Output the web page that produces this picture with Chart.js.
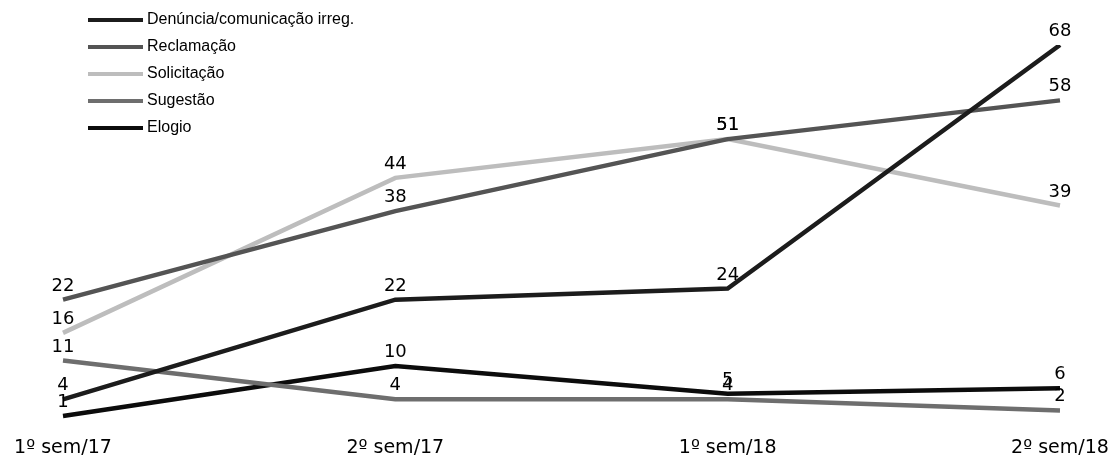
<!DOCTYPE html>
<html>
<head>
<meta charset="utf-8">
<script src="https://cdn.jsdelivr.net/npm/chart.js@4"></script>
<style>
  html, body { margin: 0; padding: 0; background: #fff; }
  #wrap { width: 1116px; height: 456px; }
</style>
</head>
<body>
<div id="wrap"><canvas id="myChart"></canvas></div>
<script>
const periods = ['1º sem/17', '2º sem/17', '1º sem/18', '2º sem/18'];

const denuncia = [4, 22, 24, 68];
const reclamacao = [22, 38, 51, 58];
const solicitacao = [16, 44, 51, 39];
const sugestao = [11, 4, 4, 2];
const elogio = [1, 10, 5, 6];

const seriesNames = ['Denúncia/comunicação irreg.', 'Reclamação', 'Solicitação', 'Sugestão', 'Elogio'];
const seriesColors = ['#1c1c1c', '#545454', '#bdbdbd', '#6e6e6e', '#0c0c0c'];

// value labels above each point
const pointLabels = {
  id: 'pointLabels',
  afterDatasetsDraw(chart) {
    const c = chart.ctx;
    c.save();
    c.font = '18px "DejaVu Sans", sans-serif';
    c.fillStyle = '#000';
    c.textAlign = 'center';
    c.textBaseline = 'alphabetic';
    chart.data.datasets.forEach((ds, i) => {
      chart.getDatasetMeta(i).data.forEach((pt, j) => {
        c.fillText(ds.data[j], pt.x, pt.y - 9);
      });
    });
    c.restore();
  }
};

// vertical legend in the top-left
const sideLegend = {
  id: 'sideLegend',
  afterDraw(chart) {
    const c = chart.ctx;
    c.save();
    c.font = '16px "Liberation Sans", Arial, sans-serif';
    c.textBaseline = 'middle';
    chart.data.datasets.forEach((ds, i) => {
      const y = 20 + i * 27;
      c.strokeStyle = ds.borderColor;
      c.lineWidth = 4;
      c.beginPath();
      c.moveTo(88, y);
      c.lineTo(143, y);
      c.stroke();
      c.fillStyle = '#000';
      c.fillText(ds.label, 147, y);
    });
    c.restore();
  }
};

const ctx = document.getElementById('myChart');

new Chart(ctx, {
  type: 'line',
  data: {
    labels: periods,
    datasets: [denuncia, reclamacao, solicitacao, sugestao, elogio].map((d, i) => ({
      label: seriesNames[i],
      data: d,
      borderColor: seriesColors[i],
      backgroundColor: seriesColors[i],
      borderWidth: 4.5,
      pointRadius: 0,
      tension: 0
    }))
  },
  options: {
    responsive: true,
    maintainAspectRatio: false,
    animation: false,
    layout: { padding: { left: 63, right: 56, top: 45, bottom: -2.5 } },
    plugins: {
      legend: { display: false },
      tooltip: { enabled: false }
    },
    scales: {
      x: {
        grid: { display: false, drawTicks: true, tickLength: 17 },
        border: { display: false },
        ticks: {
          color: '#000',
          padding: 0.5,
          maxRotation: 0,
          font: { family: '"DejaVu Sans", sans-serif', size: 19, lineHeight: 1 }
        }
      },
      y: {
        display: false,
        min: 0,
        max: 68
      }
    }
  },
  plugins: [pointLabels, sideLegend]
});
</script>
</body>
</html>
